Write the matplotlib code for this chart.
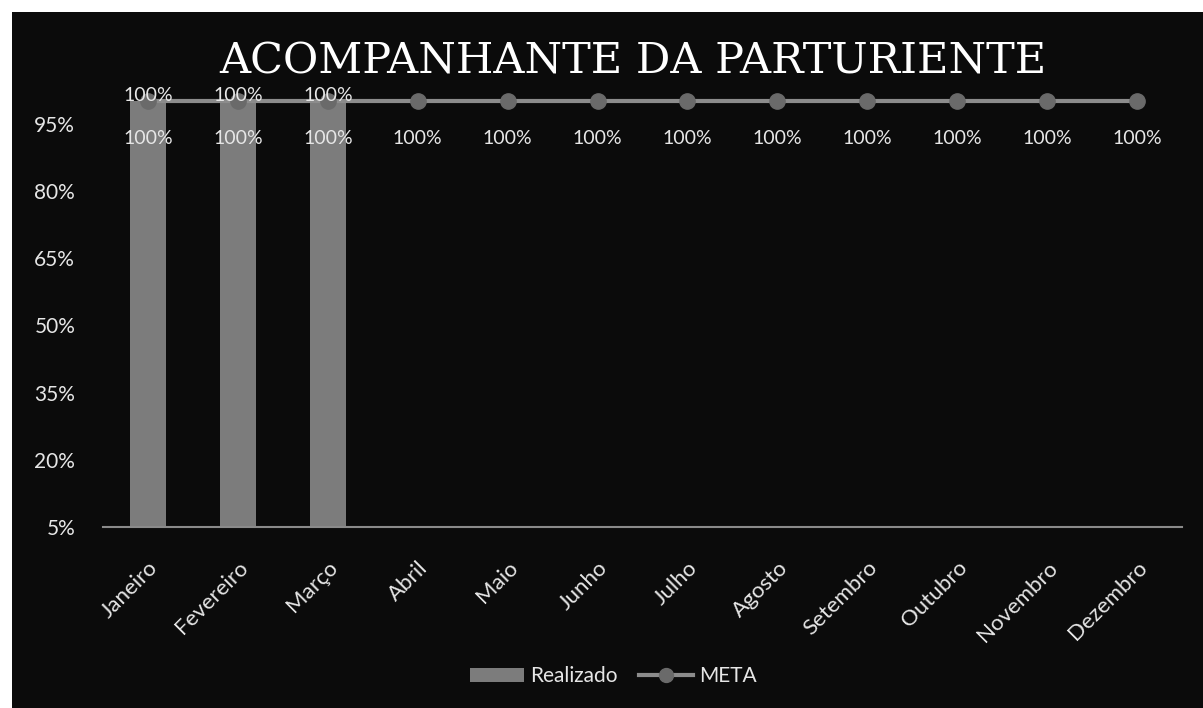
import numpy as np
import matplotlib
matplotlib.use("Agg")
import matplotlib.pyplot as plt
from matplotlib.patches import Rectangle, Patch
from matplotlib.lines import Line2D

# data
meses = ["Janeiro", "Fevereiro", "Março", "Abril", "Maio", "Junho",
         "Julho", "Agosto", "Setembro", "Outubro", "Novembro", "Dezembro"]
realizado = [1.0, 1.0, 1.0, None, None, None, None, None, None, None, None, None]
meta = [1.0] * 12
yticks = [0.05, 0.20, 0.35, 0.50, 0.65, 0.80, 0.95]

BG = "#0b0b0b"
TXT = "#e6e6e6"
BAR = "#7c7c7c"
LINE = "#8c8c8c"
MARK = "#6a6a6a"

plt.rcParams["font.family"] = ["Lato", "DejaVu Sans"]

fig = plt.figure(figsize=(12.03, 7.08), dpi=100, facecolor="white")
# dark chart area (scan shows a thin white page margin top/left)
fig.patches.append(Rectangle((12 / 1203, 0), 1, 1 - 12 / 708,
                             transform=fig.transFigure, facecolor=BG,
                             edgecolor="none", zorder=-5))

ax = fig.add_axes([0.0856, 0.2556, 0.897, 0.6328])
ax.set_zorder(2)
ax.patch.set_alpha(0)

x = np.arange(len(meses))
vals = np.array([np.nan if v is None else v for v in realizado])
ax.bar(x, vals, width=0.4, color=BAR, zorder=2)
ax.plot(x, meta, color=LINE, lw=3, marker="o", ms=11,
        markerfacecolor=MARK, markeredgecolor=MARK, zorder=3, clip_on=False)

# data labels
for i, v in enumerate(realizado):
    if v is not None:
        ax.annotate(f"{v:.0%}", (i, v), xytext=(0, 4), textcoords="offset points",
                    ha="center", va="center", color=TXT, fontsize=14, zorder=4)
for i, v in enumerate(meta):
    ax.annotate(f"{v:.0%}", (i, v), xytext=(0, -27), textcoords="offset points",
                ha="center", va="center", color=TXT, fontsize=14, zorder=4)

ax.set_xlim(-0.5, len(meses) - 0.5)
ax.set_ylim(0.05, 1.05)
ax.set_yticks(yticks)
ax.set_yticklabels([f"{t:.0%}" for t in yticks], color=TXT, fontsize=15)
ax.set_xticks(x)
ax.set_xticklabels(meses, rotation=45, ha="right", rotation_mode="anchor",
                   color=TXT, fontsize=16)
ax.tick_params(axis="y", length=0, pad=20)
ax.tick_params(axis="x", length=0, pad=22)

for s in ["top", "right", "left"]:
    ax.spines[s].set_visible(False)
ax.spines["bottom"].set_color("#8a8a8a")
ax.spines["bottom"].set_linewidth(1.5)

fig.text(0.526, 0.913, "ACOMPANHANTE DA PARTURIENTE", ha="center", va="center",
         color="white", fontsize=31, family=["DejaVu Serif"])

handles = [Patch(facecolor=BAR, edgecolor="none"),
           Line2D([0], [0], color=LINE, lw=3, marker="o", ms=10,
                  markerfacecolor=MARK, markeredgecolor=MARK)]
leg = fig.legend(handles, ["Realizado", "META"], loc="center",
                 bbox_to_anchor=(0.51, 0.045), ncol=2, frameon=False,
                 fontsize=15, labelcolor=TXT, handlelength=2.6,
                 columnspacing=1.0, handletextpad=0.3)

fig.savefig("out.png", dpi=100, facecolor=fig.get_facecolor())
